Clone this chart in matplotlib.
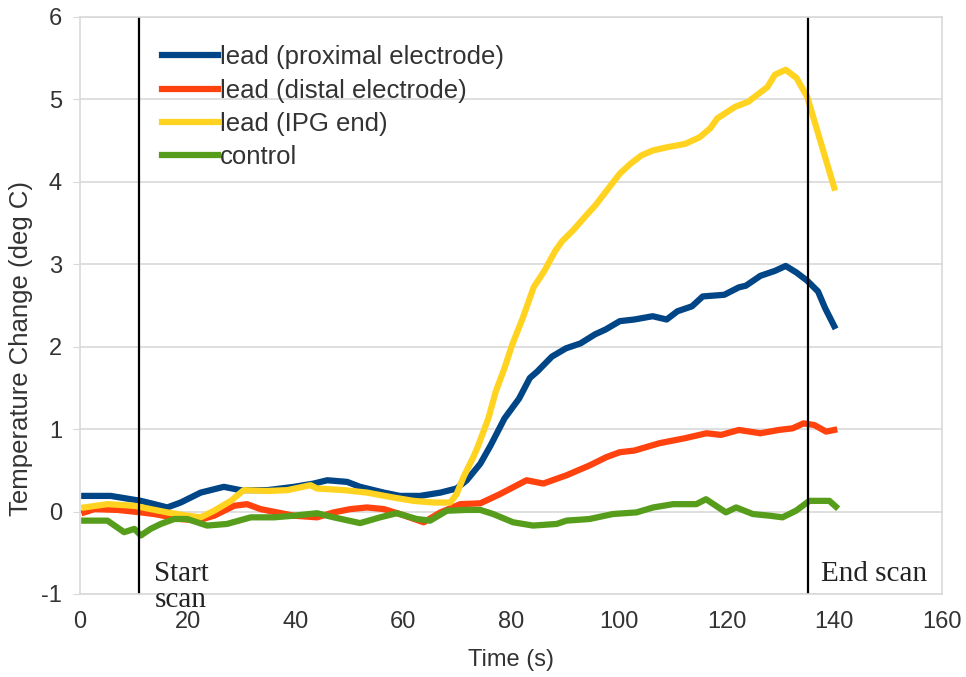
import matplotlib.pyplot as plt

# time (s) and temperature change (deg C)
prox_t = [0.8, 5.7, 11.3, 13.8, 16.2, 18.7, 22.4, 26.7, 29.8, 34.8, 39.7, 43.4, 45.9, 49.6, 52, 56.4,
          59.4, 63.1, 66.9, 69.9, 71.8, 74.3, 76.2, 78.8, 81.5, 83.5, 84.9, 87.6, 90.2, 92.9, 95.6,
          97.6, 100.2, 102.9, 106.3, 108.9, 110.9, 113.6, 115.6, 119.6, 122.3, 123.6, 126.3, 129,
          131, 133, 135, 137, 138.3, 140]
prox_v = [0.19, 0.19, 0.13, 0.09, 0.05, 0.11, 0.23, 0.30, 0.26, 0.26, 0.30, 0.34, 0.38, 0.36, 0.30, 0.23,
          0.19, 0.19, 0.23, 0.28, 0.38, 0.58, 0.80, 1.13, 1.37, 1.62, 1.70, 1.88, 1.98, 2.04, 2.15,
          2.21, 2.31, 2.33, 2.37, 2.33, 2.43, 2.49, 2.61, 2.63, 2.72, 2.74, 2.86, 2.92,
          2.98, 2.90, 2.80, 2.67, 2.47, 2.25]

dist_t = [0.8, 2.7, 7, 11.3, 13.8, 18.7, 21.8, 24.9, 28.6, 31, 33.5, 36.6, 39.7, 44, 47.1, 50.2, 53.3,
          56.4, 59.4, 63.8, 66.9, 70.6, 74.3, 77.9, 82.9, 86, 90.3, 94.6, 97.7, 100.2, 102.9, 107.6,
          112.3, 116.3, 119, 122.3, 126.3, 129.7, 132.3, 134.3, 136.3, 138.5, 140]
dist_v = [-0.01, 0.03, 0.02, -0.01, -0.03, -0.09, -0.11, -0.05, 0.07, 0.09, 0.03, -0.01, -0.05, -0.07,
          -0.01, 0.03, 0.05, 0.03, -0.03, -0.13, -0.01, 0.09, 0.10, 0.21, 0.38, 0.34, 0.44, 0.56, 0.66,
          0.72, 0.74, 0.83, 0.89, 0.95, 0.93, 0.99, 0.95, 0.99, 1.01, 1.07, 1.05, 0.97, 0.99]

ipg_t = [0.8, 5.1, 10.1, 13.1, 16.2, 19.9, 22.4, 24.9, 28, 30.4, 34.8, 38.5, 42.8, 44, 49, 53.3, 58.2,
         61.9, 65.6, 68.7, 69.9, 71.2, 73, 73.8, 75.8, 77.2, 78.8, 80.2, 82.2, 84.2, 86.2, 88.2, 89.5,
         91.5, 94.2, 95.6, 98.2, 100.2, 102.2, 104.2, 106.3, 109, 112.3, 115, 117, 118.3, 121.6, 124,
         127.6, 129, 131, 133, 135, 137, 140]
ipg_v = [0.05, 0.09, 0.07, 0.03, -0.01, -0.05, -0.07, 0.01, 0.13, 0.26, 0.25, 0.26, 0.32, 0.28, 0.26,
         0.23, 0.17, 0.13, 0.11, 0.11, 0.21, 0.42, 0.66, 0.78, 1.13, 1.46, 1.74, 2.02, 2.35, 2.72, 2.92,
         3.16, 3.28, 3.41, 3.61, 3.71, 3.93, 4.10, 4.22, 4.32, 4.38, 4.42, 4.46, 4.54, 4.65, 4.77, 4.91,
         4.97, 5.15, 5.30, 5.36, 5.26, 5.03, 4.59, 3.93]

ctrl_t = [0.8, 5.1, 8.2, 10.1, 11.3, 13.1, 15, 17.5, 19.9, 23.6, 27.3, 31.7, 36, 39.7, 44, 47.1, 52,
          55.7, 58.8, 62.5, 65, 68.1, 71.8, 74.3, 76.7, 80.4, 84.1, 88.5, 90.3, 94.6, 98.9, 103.3,
          106.4, 110.1, 114.4, 116.2, 119.9, 121.8, 124.9, 128, 130.4, 132.9, 135.4, 139.1, 140.3]
ctrl_v = [-0.11, -0.11, -0.25, -0.21, -0.29, -0.21, -0.15, -0.09, -0.09, -0.17, -0.15, -0.07, -0.07,
          -0.05, -0.02, -0.07, -0.14, -0.07, -0.02, -0.09, -0.11, 0.01, 0.02, 0.02, -0.03, -0.13, -0.17,
          -0.15, -0.11, -0.09, -0.03, -0.01, 0.05, 0.09, 0.09, 0.15, -0.01, 0.05, -0.03, -0.05, -0.07,
          0.01, 0.13, 0.13, 0.06]

scan_start = 11
scan_end = 135.2

plt.rcParams['font.family'] = ['Liberation Sans', 'DejaVu Sans']
plt.rcParams['axes.unicode_minus'] = False
txt = '#333333'

fig = plt.figure(figsize=(9.66, 6.77), dpi=100)
ax = fig.add_axes([0.0828, 0.1226, 0.8923, 0.8523])

lw = 4.5
ax.plot(prox_t, prox_v, color='#004586', lw=lw, label='lead (proximal electrode)')
ax.plot(dist_t, dist_v, color='#ff420e', lw=lw, label='lead (distal electrode)')
ax.plot(ipg_t, ipg_v, color='#ffd320', lw=lw, label='lead (IPG end)')
ax.plot(ctrl_t, ctrl_v, color='#579d1c', lw=lw, label='control')

ax.axvline(scan_start, color='black', lw=1.6)
ax.axvline(scan_end, color='black', lw=1.6)

serif = ['Liberation Serif', 'DejaVu Serif']
ax.text(13.8, -0.6, 'Start\nscan', family=serif, fontsize=21, va='top', ha='left',
        color='#222222', linespacing=1.0)
ax.text(137.5, -0.6, 'End scan', family=serif, fontsize=21, va='top', ha='left', color='#222222')

ax.set_xlim(0, 160)
ax.set_ylim(-1, 6)
ax.set_xticks(range(0, 161, 20))
ax.set_yticks(range(-1, 7))
ax.grid(axis='y', color='#d9d9d9', lw=1.2)
ax.set_axisbelow(True)
for s in ax.spines.values():
    s.set_color('#d9d9d9')
    s.set_linewidth(1.2)
ax.tick_params(axis='y', length=5, color='#d9d9d9', pad=8, labelsize=17, labelcolor=txt)
ax.tick_params(axis='x', length=0, pad=12, labelsize=17, labelcolor=txt)

ax.set_xlabel('Time (s)', fontsize=17, labelpad=12, color=txt)
ax.set_ylabel('Temperature Change (deg C)', fontsize=18.5, color=txt)
ax.yaxis.set_label_coords(-0.054, 0.426)

leg = ax.legend(loc='upper left', bbox_to_anchor=(0.095, 0.951), frameon=False, fontsize=18.5,
                handlelength=2.2, handletextpad=0.05, labelspacing=0.36, borderpad=0,
                borderaxespad=0)
for t in leg.get_texts():
    t.set_color(txt)

fig.savefig('out.png', dpi=100)
